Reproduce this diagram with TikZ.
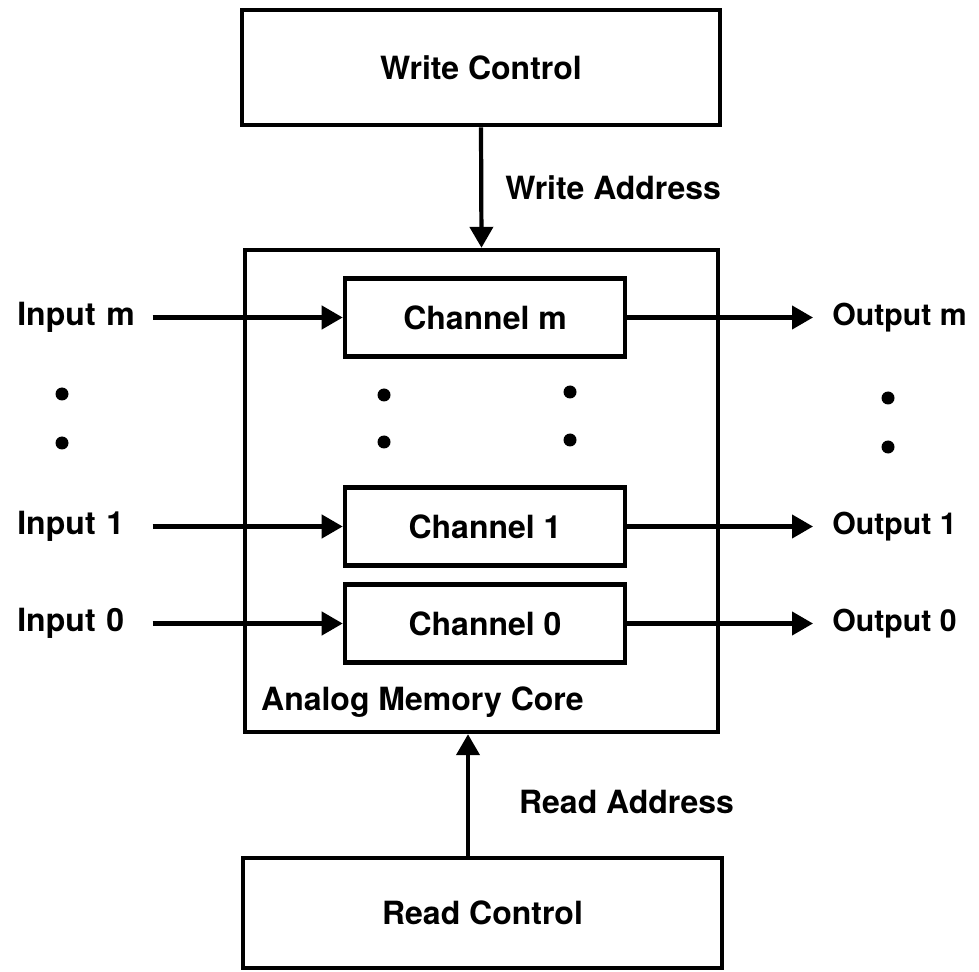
\documentclass[tikz,border=0pt]{standalone}
\usepackage{fontspec}
\setmainfont{TeX Gyre Heros}
\usepackage{tikz}
\usetikzlibrary{arrows.meta}

\begin{document}
\begin{tikzpicture}[font=\bfseries\fontsize{18.2}{22}\selectfont]
% Define styles
\tikzstyle{control} = [rectangle, minimum width=9.56cm, minimum height=2.3cm, align=center, draw=black, line width=2.8pt]
\tikzstyle{corebox} = [rectangle, minimum width=9.46cm, minimum height=9.64cm, draw=black, line width=2.5pt]
\tikzstyle{channel} = [rectangle, minimum width=5.6cm, minimum height=1.56cm, align=center, draw=black, line width=2.6pt]
\tikzstyle{inlabel} = [anchor=west, text width=2.7cm, align=left, inner xsep=0pt]
\tikzstyle{outlabel} = [anchor=west, inner xsep=0.38cm, font=\bfseries\fontsize{17.2}{21}\selectfont]
\tikzstyle{arrow} = [line width=2.4pt, -{Triangle[length=0.42cm, width=0.46cm]}]
\useasboundingbox (0,0) rectangle (19.58,-19.44);
% Place nodes
\node (core) [corebox] at (9.63,-9.82) {};
\node (wc) [control, node distance=8.47cm, above of=core, xshift=-0.01cm] {Write Control};
\node (rc) [control, minimum height=2.2cm, minimum width=9.58cm, node distance=8.44cm, below of=core, xshift=0.02cm] {Read Control};
\node (chm) [channel] at (9.7,-6.35) {Channel m};
\node (ch1) [channel] at (9.7,-10.53) {Channel 1};
\node (ch0) [channel, node distance=1.94cm, below of=ch1] {Channel 0};
\node (corelabel) [anchor=west, inner sep=0pt] at ([xshift=0.36cm, yshift=0.64cm]core.south west) {Analog Memory Core};
\node (inm) [inlabel] at (0.34,0 |- chm) {Input m};
\node (in1) [inlabel] at (0.34,0 |- ch1) {Input 1};
\node (in0) [inlabel] at (0.34,0 |- ch0) {Input 0};
\node (outm) [outlabel] at (16.26,0 |- chm) {Output m};
\node (out1) [outlabel] at (16.26,0 |- ch1) {Output 1};
\node (out0) [outlabel] at (16.26,0 |- ch0) {Output 0};
% Draw arrows
\draw [arrow] (wc.south) -- node[anchor=west, inner xsep=0.44cm] {Write Address} (core.north);
\draw [arrow] ([xshift=-0.29cm]rc.north) -- node[anchor=west, inner xsep=0.98cm, yshift=-0.14cm] {Read Address} ([xshift=-0.29cm]rc.north |- core.south);
\foreach \i/\c in {inm/chm, in1/ch1, in0/ch0}
  \draw [arrow] (\i) -- (\c);
\foreach \c/\o in {chm/outm, ch1/out1, ch0/out0}
  \draw [arrow] (\c) -- (\o);
% Dots between the channels
\foreach \x/\y in {1.24/-7.88, 1.24/-8.86, 7.68/-7.9, 7.68/-8.84, 11.4/-7.84, 11.4/-8.8, 17.76/-7.96, 17.76/-8.94}
  \fill (\x,\y) circle (0.13);
\end{tikzpicture}
\end{document}
